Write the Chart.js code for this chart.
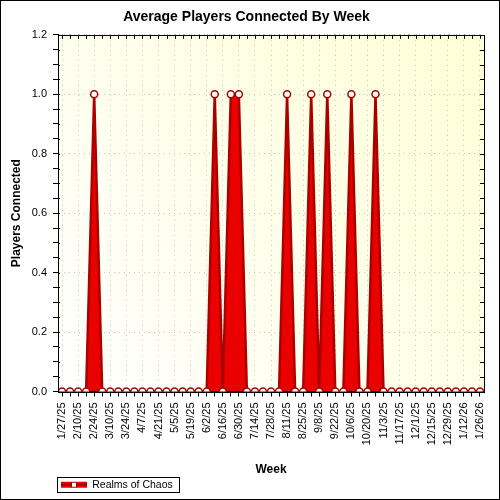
<!DOCTYPE html>
<html>
<head>
<meta charset="utf-8">
<script src="https://cdn.jsdelivr.net/npm/chart.js@4.4.1/dist/chart.umd.min.js"></script>
<style>
  html, body { margin: 0; padding: 0; background: #fff; }
  #wrap { width: 500px; height: 500px; position: relative; }
</style>
</head>
<body>
<div id="wrap"><canvas id="chart" width="500" height="500"></canvas></div>
<script>
// weekly buckets
const weeks = [
    '1/27/25', '2/3/25', '2/10/25', '2/17/25', '2/24/25', '3/3/25', '3/10/25', '3/17/25',
    '3/24/25', '3/31/25', '4/7/25', '4/14/25', '4/21/25', '4/28/25', '5/5/25', '5/12/25',
    '5/19/25', '5/26/25', '6/2/25', '6/9/25', '6/16/25', '6/23/25', '6/30/25', '7/7/25',
    '7/14/25', '7/21/25', '7/28/25', '8/4/25', '8/11/25', '8/18/25', '8/25/25', '9/1/25',
    '9/8/25', '9/15/25', '9/22/25', '9/29/25', '10/6/25', '10/13/25', '10/20/25', '10/27/25',
    '11/3/25', '11/10/25', '11/17/25', '11/24/25', '12/1/25', '12/8/25', '12/15/25', '12/22/25',
    '12/29/25', '1/5/26', '1/12/26', '1/19/26', '1/26/26'
];

const realmsOfChaos = [
    0, 0, 0, 0, 1, 0, 0, 0,
    0, 0, 0, 0, 0, 0, 0, 0,
    0, 0, 0, 1, 0, 1, 1, 0,
    0, 0, 0, 0, 1, 0, 0, 1,
    0, 1, 0, 0, 1, 0, 0, 1,
    0, 0, 0, 0, 0, 0, 0, 0,
    0, 0, 0, 0, 0
];

const yMin = 0;
const yMax = 1.2;

const FONT = "'Liberation Sans', Arial, sans-serif";
const DARK_RED = 'rgb(170,0,0)';
const RED = 'rgb(235,0,0)';

// legend symbol: red line with white marker
const makeLegendSymbol = () => {
    const c = document.createElement('canvas');
    c.width = 26;
    c.height = 8;
    const g = c.getContext('2d');
    g.fillStyle = RED;
    g.fillRect(0, 1, 26, 6);
    g.fillStyle = DARK_RED;
    g.fillRect(0, 3, 26, 2);
    g.fillStyle = '#fff';
    g.strokeStyle = DARK_RED;
    g.lineWidth = 1;
    g.fillRect(10.5, 1.5, 5, 5);
    g.strokeRect(10.5, 1.5, 5, 5);
    return c;
};
const legendSymbol = makeLegendSymbol();

// plot background, frame and inner ticks
const framePlugin = {
    id: 'frame',
    beforeDraw(chart) {
        const { ctx, chartArea: a } = chart;
        ctx.save();
        ctx.fillStyle = '#fff';
        ctx.fillRect(0, 0, chart.width, chart.height);
        const grad = ctx.createLinearGradient(a.left, a.bottom, a.right, a.top);
        grad.addColorStop(0, 'rgb(255,255,255)');
        grad.addColorStop(0.35, 'rgb(255,255,240)');
        grad.addColorStop(1, 'rgb(255,255,215)');
        ctx.fillStyle = grad;
        ctx.fillRect(a.left, a.top, a.right - a.left, a.bottom - a.top);
        ctx.restore();
    },
    afterDraw(chart) {
        const { ctx, chartArea: a } = chart;
        const xs = chart.scales.x;
        const ys = chart.scales.y;
        ctx.save();
        ctx.strokeStyle = '#000';
        ctx.lineWidth = 1;
        ctx.beginPath();
        xs.ticks.forEach((t, i) => {
            const px = Math.round(xs.getPixelForTick(i)) + 0.5;
            ctx.moveTo(px, a.top);
            ctx.lineTo(px, a.top + 4);
        });
        ys.ticks.forEach((t, i) => {
            const py = Math.round(ys.getPixelForTick(i)) + 0.5;
            ctx.moveTo(a.right, py);
            ctx.lineTo(a.right - 4, py);
            ctx.moveTo(a.left, py);
            ctx.lineTo(a.left + 2, py);
        });
        ctx.stroke();
        ctx.strokeRect(Math.round(a.left) + 0.5, Math.round(a.top) + 0.5,
            Math.round(a.right - a.left), Math.round(a.bottom - a.top));
        // legend border
        const box = chart.legend.legendHitBoxes[0];
        if (box) {
            ctx.strokeRect(Math.round(box.left) - 3.5, Math.round(box.top) - 2.5,
                Math.round(box.width) + 10, Math.round(box.height) + 4);
        }
        ctx.strokeRect(0.5, 0.5, chart.width - 1, chart.height - 1);
        ctx.restore();
    }
};

const ctx = document.getElementById('chart').getContext('2d');

new Chart(ctx, {
    type: 'line',
    data: {
        labels: weeks,
        datasets: [{
            label: 'Realms of Chaos',
            data: realmsOfChaos,
            borderColor: DARK_RED,
            backgroundColor: RED,
            borderWidth: 2.5,
            fill: 'origin',
            tension: 0,
            clip: 0,
            pointStyle: 'circle',
            pointRadius: 3.5,
            pointBorderWidth: 1.5,
            pointBackgroundColor: '#fff',
            pointBorderColor: DARK_RED
        }]
    },
    options: {
        responsive: false,
        animation: false,
        devicePixelRatio: 1,
        layout: { padding: { left: 9, right: 16, top: 0, bottom: 0 } },
        scales: {
            x: {
                offset: true,
                grid: {
                    offset: false,
                    color: (c) => (c.index % 2 === 0 ? 'rgb(195,195,195)' : 'rgba(0,0,0,0)'),
                    tickColor: '#000',
                    tickBorderDash: [],
                    tickLength: 5
                },
                border: { display: true, color: '#000', dash: [1, 4] },
                ticks: {
                    autoSkip: false,
                    minRotation: 90,
                    maxRotation: 90,
                    padding: 6,
                    color: '#000',
                    font: { family: FONT, size: 11 },
                    callback: function(value, index) {
                        return index % 2 === 0 ? this.getLabelForValue(value) : '';
                    }
                },
                title: {
                    display: true,
                    text: 'Week',
                    color: '#000',
                    font: { family: FONT, size: 12, weight: 'bold' },
                    padding: { top: 5, bottom: 0 }
                },
                afterFit: (scale) => { scale.height = 85; }
            },
            y: {
                min: yMin,
                max: yMax,
                grid: {
                    color: (c) => (Math.round(c.tick.value * 100) % 20 === 0 ? 'rgb(195,195,195)' : 'rgba(0,0,0,0)'),
                    tickColor: '#000',
                    tickBorderDash: [],
                    tickLength: 5
                },
                border: { display: true, color: '#000', dash: [1, 4] },
                ticks: {
                    stepSize: 0.05,
                    autoSkip: false,
                    padding: 6,
                    color: '#000',
                    font: { family: FONT, size: 11 },
                    callback: (value) => (Math.round(value * 100) % 20 === 0 ? value.toFixed(1) : '')
                },
                title: {
                    display: true,
                    text: 'Players Connected',
                    color: '#000',
                    font: { family: FONT, size: 12, weight: 'bold' },
                    padding: { top: 0, bottom: 0 }
                },
                afterFit: (scale) => { scale.width = 49; }
            }
        },
        plugins: {
            title: {
                display: true,
                text: 'Average Players Connected By Week',
                color: '#000',
                font: { family: FONT, size: 14, weight: 'bold' },
                padding: { top: 9, bottom: 9 }
            },
            legend: {
                display: true,
                position: 'bottom',
                align: 'start',
                fullSize: false,
                labels: {
                    usePointStyle: true,
                    boxHeight: 8,
                    pointStyleWidth: 26,
                    padding: 3,
                    color: '#000',
                    font: { family: FONT, size: 10.5 },
                    generateLabels: (chart) => chart.data.datasets.map((ds, i) => ({
                        text: ds.label,
                        fontColor: '#000',
                        pointStyle: legendSymbol,
                        lineWidth: 0,
                        strokeStyle: DARK_RED,
                        fillStyle: RED,
                        datasetIndex: i
                    }))
                }
            },
            tooltip: { enabled: false }
        }
    },
    plugins: [framePlugin]
});
</script>
</body>
</html>
